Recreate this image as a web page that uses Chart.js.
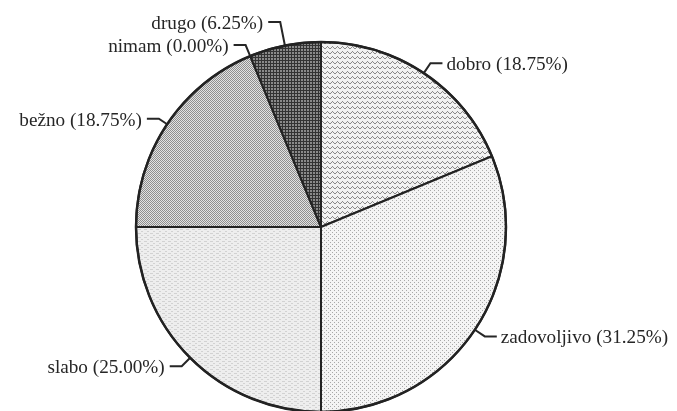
<!DOCTYPE html>
<html>
<head>
<meta charset="utf-8">
<script src="https://cdn.jsdelivr.net/npm/chart.js@4"></script>
<style>
  html, body { margin: 0; padding: 0; background: #fff; overflow: hidden; }
  #wrap { width: 677px; height: 420px; position: relative; }
</style>
</head>
<body>
<div id="wrap"><canvas id="pie"></canvas></div>
<script>
var labels = ["dobro", "zadovoljivo", "slabo", "bežno", "nimam", "drugo"];
var values = [18.75, 31.25, 25.00, 18.75, 0.00, 6.25];

// small fill patterns, like the old printed hatches
function makePattern(w, h, draw) {
  var c = document.createElement("canvas");
  c.width = w;
  c.height = h;
  var g = c.getContext("2d");
  draw(g);
  return g.createPattern(c, "repeat");
}

var patterns = [
  // dobro: fine diagonal waves
  makePattern(5, 5, function (g) {
    g.fillStyle = "#f2f2f2";
    g.fillRect(0, 0, 5, 5);
    g.fillStyle = "#8a8a8a";
    g.fillRect(0, 3, 1, 1);
    g.fillRect(1, 2, 1, 1);
    g.fillRect(2, 1, 1, 1);
    g.fillRect(3, 2, 1, 1);
    g.fillRect(4, 3, 1, 1);
  }),
  // zadovoljivo: light dots
  makePattern(4, 4, function (g) {
    g.fillStyle = "#f4f4f4";
    g.fillRect(0, 0, 4, 4);
    g.fillStyle = "#a8a8a8";
    g.fillRect(0, 0, 1, 1);
    g.fillRect(2, 2, 1, 1);
  }),
  // slabo: very light grain
  makePattern(6, 4, function (g) {
    g.fillStyle = "#eeeeee";
    g.fillRect(0, 0, 6, 4);
    g.fillStyle = "#d2d2d2";
    g.fillRect(0, 1, 3, 1);
    g.fillRect(3, 3, 2, 1);
  }),
  // bežno: checker
  makePattern(2, 2, function (g) {
    g.fillStyle = "#e2e2e2";
    g.fillRect(0, 0, 2, 2);
    g.fillStyle = "#8e8e8e";
    g.fillRect(0, 0, 1, 1);
    g.fillRect(1, 1, 1, 1);
  }),
  "#888888",
  // drugo: dark grid
  makePattern(3, 3, function (g) {
    g.fillStyle = "#8a8a8a";
    g.fillRect(0, 0, 3, 3);
    g.fillStyle = "#333333";
    g.fillRect(0, 0, 3, 1);
    g.fillRect(0, 0, 1, 3);
  })
];

// leader lines + labels outside the pie
var pieLabels = {
  id: "pieLabels",
  afterDatasetsDraw: function (chart, args, opts) {
    var ctx = chart.ctx;
    var arcs = chart.getDatasetMeta(0).data;
    ctx.save();
    ctx.font = "19.2px 'Liberation Serif', 'Times New Roman', serif";
    ctx.fillStyle = "#262626";
    ctx.strokeStyle = "#262626";
    ctx.lineWidth = 2;
    ctx.textBaseline = "middle";
    arcs.forEach(function (arc, i) {
      var mid = (arc.startAngle + arc.endAngle) / 2;
      var r = arc.outerRadius;
      var ext = (opts.extend && opts.extend[i]) || 12;
      var ex = arc.x + Math.cos(mid) * r;
      var ey = arc.y + Math.sin(mid) * r;
      var bx = arc.x + Math.cos(mid) * (r + ext);
      var by = arc.y + Math.sin(mid) * (r + ext);
      var right = Math.cos(mid) >= 0;
      var hx = bx + (right ? 12 : -12);
      ctx.beginPath();
      ctx.moveTo(ex, ey);
      ctx.lineTo(bx, by);
      ctx.lineTo(hx, by);
      ctx.stroke();
      var txt = labels[i] + " (" + values[i].toFixed(2) + "%)";
      ctx.textAlign = right ? "left" : "right";
      ctx.fillText(txt, hx + (right ? 4 : -5), by + 2);
    });
    // heavier outer rim, as in the print
    var a = arcs[0];
    ctx.beginPath();
    ctx.arc(a.x, a.y, a.outerRadius, 0, Math.PI * 2);
    ctx.lineWidth = 2.5;
    ctx.strokeStyle = "#222222";
    ctx.stroke();
    ctx.restore();
  }
};

new Chart(document.getElementById("pie"), {
  type: "pie",
  data: {
    labels: labels,
    datasets: [
      {
        data: values,
        backgroundColor: patterns,
        borderColor: "#222222",
        borderWidth: 2,
      },
    ],
  },
  options: {
    responsive: true,
    maintainAspectRatio: false,
    animation: false,
    layout: { padding: { top: 41, bottom: 7, left: 135, right: 170 } },
    plugins: {
      legend: { display: false },
      tooltip: { enabled: false },
      pieLabels: { extend: [12, 12, 12, 10, 12, 24] },
    },
  },
  plugins: [pieLabels],
});
</script>
</body>
</html>
